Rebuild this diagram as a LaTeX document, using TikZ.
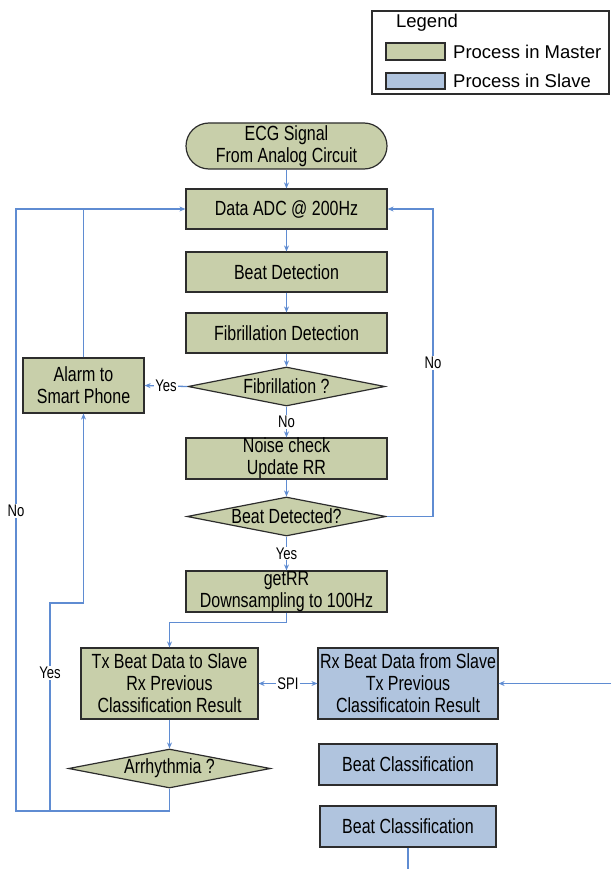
\documentclass[tikz,border=0pt]{standalone}
\usepackage{fontspec}
\setmainfont{Liberation Sans}
\newfontfamily\condfont[FakeStretch=0.78]{Liberation Sans}
\usetikzlibrary{shapes.geometric,arrows.meta}
\definecolor{masterfill}{RGB}{200,207,170}
\definecolor{slavefill}{RGB}{176,196,222}
\definecolor{linkblue}{RGB}{95,140,210}
\definecolor{edgegray}{RGB}{45,45,45}
\begin{document}
\begin{tikzpicture}[x=1pt,y=-1pt,
  box/.style={draw=edgegray,line width=1.2pt,rectangle,inner sep=0pt,align=center,font=\condfont\fontsize{20.5}{22}\selectfont},
  mbox/.style={box,fill=masterfill},
  sbox/.style={box,fill=slavefill},
  dec/.style={box,diamond,aspect=5,fill=masterfill},
  link/.style={draw=linkblue,line width=1.3pt},
  flow/.style={link,-{Stealth[length=6pt,width=5pt]}},
  flowboth/.style={link,{Stealth[length=6pt,width=5pt]}-{Stealth[length=6pt,width=5pt]}},
  lbl/.style={fill=white,inner sep=1pt,font=\condfont\fontsize{16.8}{18}\selectfont},
  legtext/.style={inner sep=0pt,font=\fontsize{18.5}{20}\selectfont}]
\useasboundingbox (0,0) rectangle (611,869);

% legend
\node[draw=edgegray,line width=1.2pt,minimum width=237pt,minimum height=83pt,inner sep=0pt] (legend) at (490.5,52.5) {};
\node[legtext] (legtitle) at (427,23) {Legend};
\node[draw=edgegray,line width=1.2pt,fill=masterfill,minimum width=59pt,minimum height=17pt,inner sep=0pt] (swm) at (415.5,51.5) {};
\node[legtext,anchor=west] (lgm) at (453,52) {Process in Master};
\node[draw=edgegray,line width=1.2pt,fill=slavefill,minimum width=59pt,minimum height=16pt,inner sep=0pt] (sws) at (415.5,81) {};
\node[legtext,anchor=west] (lgs) at (453,81) {Process in Slave};

% main column
\node[mbox,rounded corners=23pt,minimum width=201pt,minimum height=46pt] (ecg) at (286.5,146) {ECG Signal\\From Analog Circuit};
\node[mbox,minimum width=201pt,minimum height=40pt] (adc) at (286.5,209) {Data ADC @ 200Hz};
\node[mbox,minimum width=201pt,minimum height=40pt] (beat) at (286.5,272) {Beat Detection};
\node[mbox,minimum width=201pt,minimum height=40pt] (fibd) at (286.5,333) {Fibrillation Detection};
\node[dec,minimum width=197pt,minimum height=39pt] (fibq) at (286.5,386.5) {Fibrillation ?};
\node[mbox,minimum width=121pt,minimum height=55pt] (alarm) at (83.5,385.5) {Alarm to\\Smart Phone};
\node[mbox,minimum width=201pt,minimum height=41pt] (noise) at (286.5,458.5) {Noise check\\Update RR};
\node[dec,minimum width=199pt,minimum height=39pt] (bdq) at (286.5,516.5) {Beat Detected?};
\node[mbox,minimum width=201pt,minimum height=41pt] (getrr) at (286.5,591.5) {getRR\\Downsampling to 100Hz};
\node[mbox,minimum width=177pt,minimum height=71pt] (tx) at (169.5,683.5) {Tx Beat Data to Slave\\Rx Previous\\Classification Result};
\node[sbox,minimum width=180pt,minimum height=71pt] (rx) at (408,683.5) {Rx Beat Data from Slave\\Tx Previous\\Classificatoin Result};
\node[dec,minimum width=202pt,minimum height=39pt] (arrq) at (169.5,768.5) {Arrhythmia ?};
\node[sbox,minimum width=178pt,minimum height=41pt] (bc1) at (408,764.5) {Beat Classification};
\node[sbox,minimum width=176pt,minimum height=41pt] (bc2) at (408,826.5) {Beat Classification};

% helper coordinates
\coordinate (rno) at (433,516.5);
\coordinate (arrbot) at (169.5,811);
\coordinate (yesfoot) at (50,811);
\coordinate (nofoot) at (16,811);
\coordinate (yesknee) at (50,603);
\coordinate (yeselbow) at (83.5,603);
\coordinate (alarmtop) at (83.5,209);
\coordinate (rin) at (611,683.5);
\coordinate (bcout) at (408,869);

% connectors
\draw[flow] (ecg) -- (adc);
\draw[flow] (adc) -- (beat);
\draw[flow] (beat) -- (fibd);
\draw[flow] (fibd) -- (fibq);
\draw[flow] (fibq.west) -- node[lbl] {Yes} (alarm.east);
\draw[flow] (fibq.south) -- node[lbl] {No} (noise.north);
\draw[flow] (noise) -- (bdq.north);
\draw[flow] (bdq.south) -- node[lbl] {Yes} (getrr.north);
\draw[flow] (bdq.east) -- (rno) |- (adc.east);
\node[lbl] (lno1) at (433,363) {No};
\draw[flow] (getrr.south) -- ++(0,10) -| (tx.north);
\draw[flow] (tx.south) -- (arrq.north);
\draw[flowboth] (tx.east) -- node[lbl] {SPI} (rx.west);
\draw[flow] (rin) -- (rx.east);
\draw[link] (bc2.south) -- (bcout);
\draw[flow] (arrq.south) -- (arrbot) -- (nofoot) |- (adc.west);
\node[lbl] (lno2) at (16,511) {No};
\draw[flow] (yesfoot) -- (yesknee) -- (yeselbow) -- (alarm.south);
\node[lbl] (lyes2) at (50,673) {Yes};
\draw[link] (alarm.north) -- (alarmtop);
\end{tikzpicture}
\end{document}
